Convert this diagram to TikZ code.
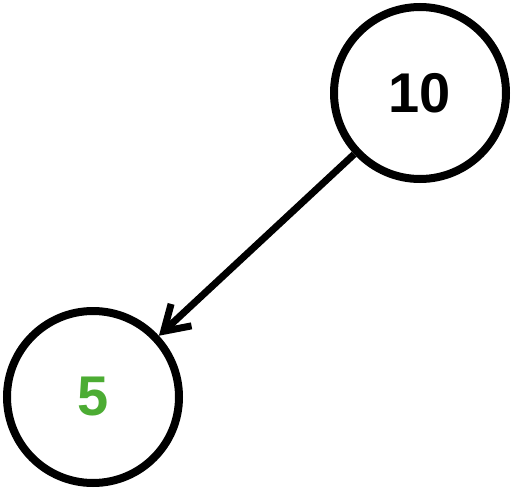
\documentclass[tikz,border=0pt]{standalone}
\usepackage{fontspec}
\setmainfont{Liberation Sans}
\usetikzlibrary{arrows.meta}
\definecolor{vert}{RGB}{76,172,51}
\tikzset{
	cercle/.style={circle,draw=black,line width=8pt,minimum size=172pt,inner sep=0pt,
		font=\fontsize{56}{60}\selectfont\bfseries},
	fleche/.style={line width=7pt,-{Straight Barb[length=24pt,width=30pt]}}
}
\begin{document}
\begin{tikzpicture}[x=1pt,y=-1pt]% un pixel par point
		\useasboundingbox (0,0) rectangle (512,490);
		\node[cercle] (dix) at (420,93) {10};
		\node[cercle,text=vert] (cinq) at (93,397) {5};
		\draw[fleche] (dix) -- (cinq);
	\end{tikzpicture}
\end{document}
